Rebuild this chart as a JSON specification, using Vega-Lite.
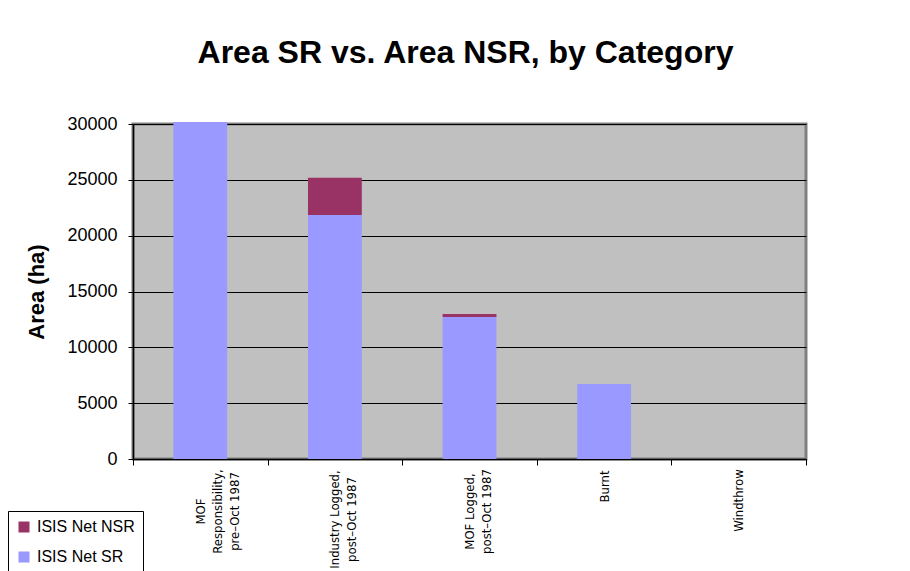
{
  "$schema": "https://vega.github.io/schema/vega-lite/v6.json",
  "width": 673,
  "height": 335,
  "autosize": {"type": "none"},
  "padding": {"left": 133, "top": 124, "right": 104, "bottom": 112},
  "background": "white",
  "title": {
    "text": "Area SR vs. Area NSR, by Category",
    "font": "Liberation Sans",
    "fontSize": 32,
    "fontWeight": "bold",
    "color": "black",
    "anchor": "middle",
    "dx": -4,
    "offset": 45
  },
  "data": {
    "values": [
      {"category": "MOF\nResponsibility,\npre–Oct 1987", "series": "ISIS Net SR", "area": 30180},
      {"category": "MOF\nResponsibility,\npre–Oct 1987", "series": "ISIS Net NSR", "area": 0},
      {"category": "Industry Logged,\npost–Oct 1987", "series": "ISIS Net SR", "area": 21850},
      {"category": "Industry Logged,\npost–Oct 1987", "series": "ISIS Net NSR", "area": 3340},
      {"category": "MOF Logged,\npost–Oct 1987", "series": "ISIS Net SR", "area": 12720},
      {"category": "MOF Logged,\npost–Oct 1987", "series": "ISIS Net NSR", "area": 270},
      {"category": "Burnt", "series": "ISIS Net SR", "area": 6720},
      {"category": "Burnt", "series": "ISIS Net NSR", "area": 0},
      {"category": "Windthrow", "series": "ISIS Net SR", "area": 0},
      {"category": "Windthrow", "series": "ISIS Net NSR", "area": 0}
    ]
  },
  "mark": {"type": "bar", "width": {"band": 0.4}},
  "encoding": {
    "x": {
      "field": "category",
      "type": "nominal",
      "sort": null,
      "scale": {"paddingInner": 0, "paddingOuter": 0},
      "axis": {
        "title": null,
        "labelAngle": -90,
        "labelAlign": "center",
        "labelBaseline": "middle",
        "labelFont": "DejaVu Sans Condensed, Liberation Sans",
        "labelFontSize": 13,
        "labelLineHeight": 17,
        "labelColor": "black",
        "labelLimit": 0,
        "labelOverlap": false,
        "labelExpr": "split(datum.label, '\\n')",
        "labelPadding": {
          "condition": [
            {"test": "datum.value == 'MOF\\nResponsibility,\\npre–Oct 1987'", "value": 46},
            {"test": "datum.value == 'Industry Logged,\\npost–Oct 1987'", "value": 54},
            {"test": "datum.value == 'MOF Logged,\\npost–Oct 1987'", "value": 46},
            {"test": "datum.value == 'Burnt'", "value": 21}
          ],
          "value": 35
        },
        "tickBand": "extent",
        "tickSize": 6,
        "tickColor": "black",
        "domainColor": "black",
        "domainWidth": 1.5
      }
    },
    "y": {
      "field": "area",
      "type": "quantitative",
      "stack": "zero",
      "scale": {"domain": [0, 30000], "nice": false},
      "axis": {
        "title": "Area (ha)",
        "titleFont": "Liberation Sans",
        "titleFontSize": 22,
        "titleFontWeight": "bold",
        "titleColor": "black",
        "titlePadding": 18,
        "values": [0, 5000, 10000, 15000, 20000, 25000, 30000],
        "format": "d",
        "labelFont": "Liberation Sans",
        "labelFontSize": 18,
        "labelColor": "black",
        "labelPadding": 11,
        "tickSize": 5,
        "tickColor": "black",
        "domainColor": "black",
        "domainWidth": 1.5,
        "gridColor": "black",
        "gridWidth": 1,
        "gridOpacity": 1
      }
    },
    "color": {
      "field": "series",
      "type": "nominal",
      "scale": {"domain": ["ISIS Net NSR", "ISIS Net SR"], "range": ["#993366", "#9999FF"]},
      "legend": {
        "orient": "none",
        "legendX": -125,
        "legendY": 387,
        "title": null,
        "strokeColor": "black",
        "fillColor": "white",
        "padding": 8,
        "symbolType": "square",
        "symbolSize": 121,
        "symbolStrokeWidth": 0,
        "symbolOpacity": 1,
        "labelFont": "Liberation Sans",
        "labelFontSize": 16,
        "labelColor": "black",
        "rowPadding": 14,
        "labelOffset": 5
      }
    },
    "order": {"field": "series", "sort": "descending"}
  },
  "config": {
    "view": {"fill": "#C0C0C0", "stroke": "#808080", "strokeWidth": 3},
    "bar": {"opacity": 1}
  }
}
